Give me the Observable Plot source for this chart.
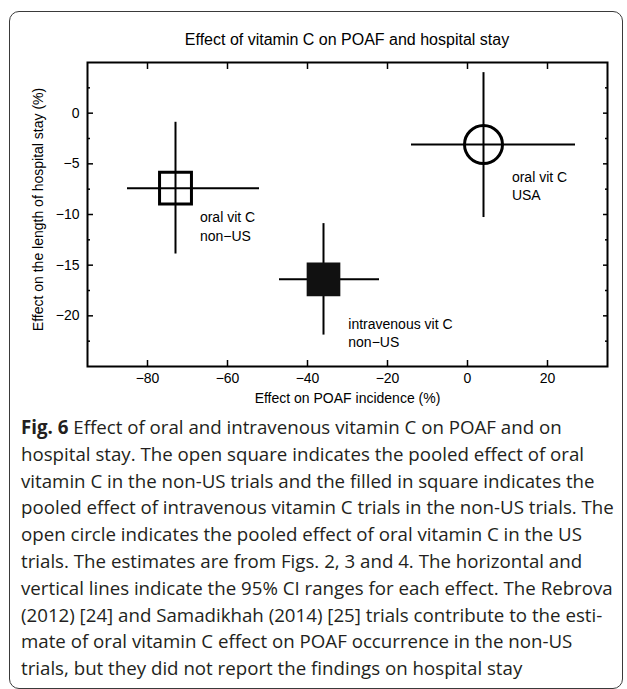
<!DOCTYPE html>
<html>
<head>
<meta charset="utf-8">
<script src="https://cdn.jsdelivr.net/npm/d3@7"></script>
<script src="https://cdn.jsdelivr.net/npm/@observablehq/plot@0.6"></script>
<style>
  html, body { margin: 0; padding: 0; background: #fff; }
  body { width: 627px; height: 689px; position: relative; overflow: hidden; }
  #border { position: absolute; left: 9px; top: 11px; width: 612px; height: 676px; border: 1px solid #3a3a3a; border-radius: 10px; }
  #title { position: absolute; left: 87px; top: 29px; width: 520px; text-align: center;
    font: 16px "Liberation Sans", Arial, sans-serif; color: #000; line-height: 22px; }
  #chart { position: absolute; left: 0; top: 50px; }
  #caption { position: absolute; left: 21px; top: 414px; width: 600px;
    font: 18.7px "Open Sans", sans-serif; line-height: 26.8px; color: #231f20; white-space: pre; }
  #caption b { font-weight: 700; }
</style>
</head>
<body>
<div id="border"></div>
<div id="title"></div>
<div id="chart"></div>
<div id="caption"></div>
<script>
// ---- data ----
const groups   = ["oral vit C non-US", "intravenous vit C non-US", "oral vit C USA"];
const poaf     = [-73, -36, 4];          // effect on POAF incidence (%)
const poafLow  = [-85, -47, -14];
const poafHigh = [-52, -22, 27];
const stay     = [-7.4, -16.4, -3.1];    // effect on length of hospital stay (%)
const stayLow  = [-13.9, -21.9, -10.3];
const stayHigh = [-0.9, -10.9, 4.0];
const labels   = ["oral vit C\nnon\u2212US", "intravenous vit C\nnon\u2212US", "oral vit C\nUSA"];
const labelX   = [-66.9, -29.8, 11.1];
const labelY   = [-11.1, -21.6, -7.1];
const xTicks   = [-80, -60, -40, -20, 0, 20];
const yTicks   = [-20, -15, -10, -5, 0];
const yMinor   = [-22.5, -17.5, -12.5, -7.5, -2.5, 2.5];
const xDomain  = [-95, 35];
const yDomain  = [-25, 5];
const titleText  = "Effect of vitamin C on POAF and hospital stay";
const xLabelText = "Effect on POAF incidence (%)";
const yLabelText = "Effect on the length of hospital stay (%)";
const captionLines = [
  "Effect of oral and intravenous vitamin C on POAF and on",
  "hospital stay. The open square indicates the pooled effect of oral",
  "vitamin C in the non-US trials and the filled in square indicates the",
  "pooled effect of intravenous vitamin C trials in the non-US trials. The",
  "open circle indicates the pooled effect of oral vitamin C in the US",
  "trials. The estimates are from Figs. 2, 3 and 4. The horizontal and",
  "vertical lines indicate the 95% CI ranges for each effect. The Rebrova",
  "(2012) [24] and Samadikhah (2014) [25] trials contribute to the esti-",
  "mate of oral vitamin C effect on POAF occurrence in the non-US",
  "trials, but they did not report the findings on hospital stay"
];

const rows = groups.map((g, i) => ({
  group: g, x: poaf[i], x1: poafLow[i], x2: poafHigh[i],
  y: stay[i], y1: stayLow[i], y2: stayHigh[i],
  label: labels[i], lx: labelX[i], ly: labelY[i]
}));

document.getElementById("title").textContent = titleText;

const font = "Liberation Sans, Arial, sans-serif";
const chart = Plot.plot({
  width: 627,
  height: 360,
  marginTop: 12,
  marginBottom: 44,
  marginLeft: 87,
  marginRight: 20,
  style: { fontFamily: font, fontSize: "14px", color: "#000", background: "transparent", overflow: "visible" },
  x: { domain: xDomain },
  y: { domain: yDomain },
  marks: [
    // axes: labels
    Plot.axisX(xTicks, { anchor: "bottom", tickSize: 0, tickPadding: 7, label: null, fontSize: 14 }),
    Plot.axisY(yTicks, { anchor: "left", tickSize: 0, tickPadding: 8, label: null, fontSize: 14 }),
    // inward ticks
    Plot.axisX(xTicks, { anchor: "bottom", tickSize: -6, text: null, label: null, strokeWidth: 1.5 }),
    Plot.axisX(xTicks, { anchor: "top", tickSize: -6, text: null, label: null, strokeWidth: 1.5 }),
    Plot.axisY(yTicks, { anchor: "left", tickSize: -6, text: null, label: null, strokeWidth: 1.5 }),
    Plot.axisY(yMinor, { anchor: "left", tickSize: -3, text: null, label: null, strokeWidth: 1.5 }),
    Plot.axisY(yTicks, { anchor: "right", tickSize: -5, text: null, label: null, strokeWidth: 1.5 }),
    Plot.axisY(yMinor, { anchor: "right", tickSize: -3, text: null, label: null, strokeWidth: 1.5 }),
    Plot.frame({ stroke: "#000", strokeWidth: 2 }),
    // axis titles
    Plot.text([xLabelText], { text: d => d, frameAnchor: "bottom", lineAnchor: "middle", dy: 32, fontSize: 14, fill: "#000" }),
    Plot.text([yLabelText], { text: d => d, frameAnchor: "left", textAnchor: "middle", lineAnchor: "middle", dx: -49, dy: -5, rotate: -90, fontSize: 14, fill: "#000" }),
    // confidence intervals
    Plot.ruleY(rows, { y: "y", x1: "x1", x2: "x2", stroke: "#000", strokeWidth: 2 }),
    Plot.ruleX(rows, { x: "x", y1: "y1", y2: "y2", stroke: "#000", strokeWidth: 2 }),
    // point estimates
    Plot.dot([rows[0]], { x: "x", y: "y", symbol: "square", r: 18, stroke: "#000", strokeWidth: 3, fill: "none" }),
    Plot.dot([rows[1]], { x: "x", y: "y", symbol: "square", r: 19, fill: "#111", stroke: "none" }),
    Plot.dot([rows[2]], { x: "x", y: "y", symbol: "circle", r: 19, stroke: "#000", strokeWidth: 3, fill: "none" }),
    // annotations
    Plot.text(rows, { x: "lx", y: "ly", text: "label", textAnchor: "start", lineHeight: 1.3, fontSize: 14, fill: "#000" })
  ]
});
document.getElementById("chart").appendChild(chart);

const cap = document.getElementById("caption");
const b = document.createElement("b");
b.textContent = "Fig. 6";
cap.appendChild(b);
cap.appendChild(document.createTextNode(" " + captionLines.join("\n")));
</script>
</body>
</html>
